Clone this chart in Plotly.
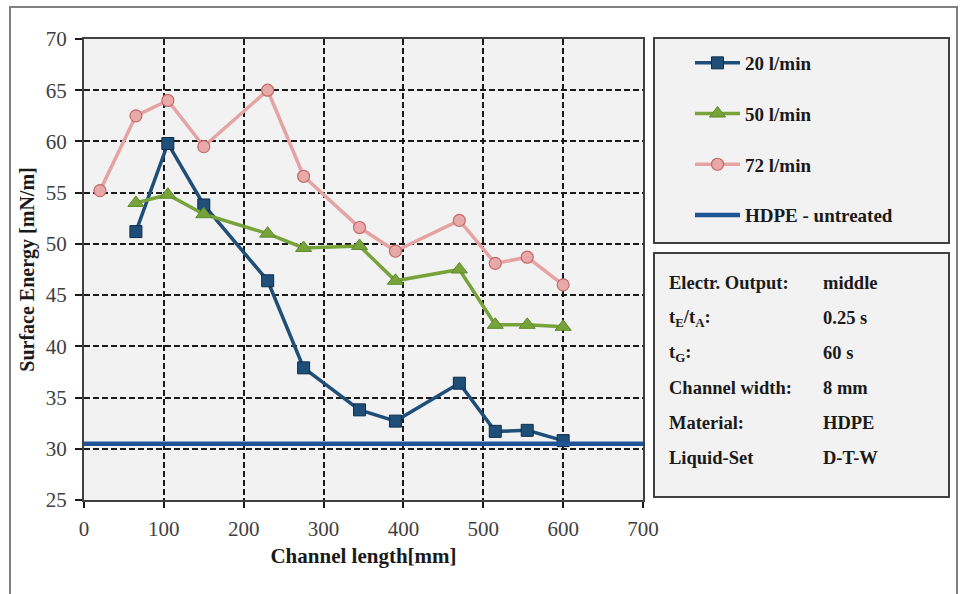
import plotly.graph_objects as go

# ---- data ----
x_20 = [65, 105, 150, 230, 275, 345, 390, 470, 515, 555, 600]
y_20 = [51.2, 59.8, 53.8, 46.4, 37.9, 33.8, 32.7, 36.4, 31.7, 31.8, 30.8]

x_50 = [65, 105, 150, 230, 275, 345, 390, 470, 515, 555, 600]
y_50 = [54.0, 54.8, 52.9, 51.0, 49.6, 49.8, 46.4, 47.5, 42.1, 42.1, 41.9]

x_72 = [20, 65, 105, 150, 230, 275, 345, 390, 470, 515, 555, 600]
y_72 = [55.2, 62.5, 64.0, 59.5, 65.0, 56.6, 51.6, 49.3, 52.3, 48.1, 48.7, 46.0]

x_untreated = [0, 700]
y_untreated = [30.5, 30.5]

info_labels = ["Electr. Output:", "t<sub>E</sub>/t<sub>A</sub>:", "t<sub>G</sub>:",
               "Channel width:", "Material:", "Liquid-Set"]
info_values = ["middle", "0.25 s", "60 s", "8 mm", "HDPE", "D-T-W"]

FONT = "Liberation Serif"

fig = go.Figure()
fig.add_trace(go.Scatter(x=x_20, y=y_20, name="20 l/min", mode="lines+markers",
                         line=dict(color="#1f4e79", width=3.5),
                         marker=dict(symbol="square", size=12, color="#1f4e79",
                                     line=dict(color="#0f2c4a", width=1)),
                         legendgroup="a"))
fig.add_trace(go.Scatter(x=x_50, y=y_50, name="50 l/min", mode="lines+markers",
                         line=dict(color="#77a33a", width=3.5),
                         marker=dict(symbol="triangle-up", size=14, color="#77a33a",
                                     line=dict(color="#5e8a2a", width=1)),
                         legendgroup="b"))
fig.add_trace(go.Scatter(x=x_72, y=y_72, name="72 l/min", mode="lines+markers",
                         line=dict(color="#e6a3a3", width=3.5),
                         marker=dict(symbol="circle", size=12, color="#eaa9a9",
                                     line=dict(color="#c46a6a", width=1.2)),
                         legendgroup="c"))
fig.add_trace(go.Scatter(x=x_untreated, y=y_untreated, name="HDPE - untreated", mode="lines",
                         line=dict(color="#1f5596", width=4.5),
                         legendgroup="d"))

# plot geometry (pixels)
L, R, T, B = 84, 643, 39, 500
W, H = R - L, B - T

def px(xp):
    return (xp - L) / W

def py(yp):
    return (B - yp) / H

shapes = [
    # outer frame
    dict(type="rect", xref="paper", yref="paper", x0=px(10), x1=px(957), y0=py(640), y1=py(7),
         line=dict(color="#7f7f7f", width=2), fillcolor="rgba(0,0,0,0)", layer="below"),
    # legend box
    dict(type="rect", xref="paper", yref="paper", x0=px(654), x1=px(949), y0=py(243), y1=py(38),
         line=dict(color="#404040", width=2), fillcolor="#f2f2f2", layer="below"),
    # info box
    dict(type="rect", xref="paper", yref="paper", x0=px(654), x1=px(949), y0=py(497), y1=py(253),
         line=dict(color="#404040", width=2), fillcolor="#f2f2f2", layer="below"),
]

annotations = []
row_y = [283, 318, 353, 388, 423, 458]
for lab, val, yy in zip(info_labels, info_values, row_y):
    annotations.append(dict(xref="paper", yref="paper", x=px(667), y=py(yy), text="<b>%s</b>" % lab,
                            showarrow=False, xanchor="left", yanchor="middle",
                            font=dict(family=FONT, size=18.5, color="#1a1a1a")))
    annotations.append(dict(xref="paper", yref="paper", x=px(821), y=py(yy), text="<b>%s</b>" % val,
                            showarrow=False, xanchor="left", yanchor="middle",
                            font=dict(family=FONT, size=18.5, color="#1a1a1a")))

fig.update_layout(
    width=964, height=594,
    margin=dict(l=L, r=964 - R, t=T, b=594 - B, autoexpand=False),
    paper_bgcolor="white",
    plot_bgcolor="#f2f2f2",
    font=dict(family=FONT, color="#404040"),
    shapes=shapes,
    annotations=annotations,
    showlegend=True,
    legend=dict(x=px(690), y=py(44), xanchor="left", yanchor="top",
                bgcolor="rgba(0,0,0,0)", borderwidth=0,
                traceorder="grouped", tracegroupgap=23,
                font=dict(family=FONT, size=19, color="#1a1a1a", weight="bold"),
                itemwidth=45),
    xaxis=dict(range=[0, 700], dtick=100, tick0=0,
               showgrid=True, gridcolor="#1a1a1a", griddash="6px,3px", gridwidth=1.5,
               showline=True, linecolor="#404040", linewidth=2, mirror=True,
               ticks="outside", ticklen=6, tickcolor="#1a1a1a", tickwidth=1.5,
               ticklabelstandoff=3,
               tickfont=dict(family=FONT, size=21, color="#404040"),
               zeroline=False,
               title=dict(text="<b>Channel length[mm]</b>", standoff=8,
                          font=dict(family=FONT, size=21, color="#1a1a1a"))),
    yaxis=dict(range=[25, 70], dtick=5, tick0=25,
               showgrid=True, gridcolor="#1a1a1a", griddash="6px,3px", gridwidth=1.5,
               showline=True, linecolor="#404040", linewidth=2, mirror=True,
               ticks="outside", ticklen=7, tickcolor="#1a1a1a", tickwidth=1.5,
               ticklabelstandoff=4,
               tickfont=dict(family=FONT, size=21, color="#404040"),
               zeroline=False,
               title=dict(text="<b>Surface Energy [mN/m]</b>", standoff=6,
                          font=dict(family=FONT, size=20, color="#1a1a1a"))),
)

fig.write_html("out.html", config={"displayModeBar": False},
               post_script="document.body.style.margin='0';")
